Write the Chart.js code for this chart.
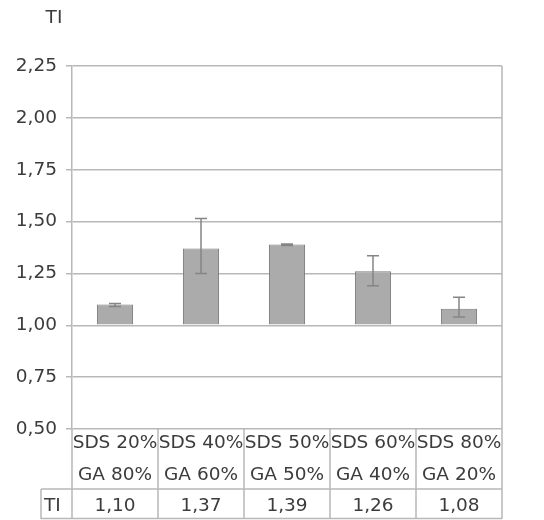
<!DOCTYPE html>
<html>
<head>
<meta charset="utf-8">
<script src="https://cdn.jsdelivr.net/npm/chart.js@4"></script>
<style>
html,body{margin:0;padding:0;background:#fff;}
#wrap{width:544px;height:520px;position:relative;}
</style>
</head>
<body>
<div id="wrap"><canvas id="c" width="544" height="520"></canvas></div>
<script>
const categoriesTop = ["SDS 20%", "SDS 40%", "SDS 50%", "SDS 60%", "SDS 80%"];
const categoriesBottom = ["GA 80%", "GA 60%", "GA 50%", "GA 40%", "GA 20%"];
const tiValues = [1.10, 1.37, 1.39, 1.26, 1.08];
const errLow = [1.09, 1.25, 1.385, 1.19, 1.04];
const errHigh = [1.105, 1.515, 1.392, 1.335, 1.135];
const tableValues = ["1,10", "1,37", "1,39", "1,26", "1,08"];
const seriesName = "TI";
const yTicks = [0.5, 0.75, 1.0, 1.25, 1.5, 1.75, 2.0, 2.25];

const FONT = "'DejaVu Sans', sans-serif";
const TXT = "#3c3c3c";
const GRID = "#b8b8b8";
const FS = 18.5;

const tablePlugin = {
  id: 'tablePlugin',
  afterDatasetsDraw(chart) {
    const ctx = chart.ctx;
    const ys = chart.scales.y;
    const meta = chart.getDatasetMeta(0);
    ctx.save();
    ctx.strokeStyle = "#858585";
    ctx.lineWidth = 1.5;
    meta.data.forEach((bar, i) => {
      const x = bar.x;
      const yl = ys.getPixelForValue(errLow[i]);
      const yh = ys.getPixelForValue(errHigh[i]);
      ctx.beginPath();
      ctx.moveTo(x, yl); ctx.lineTo(x, yh);
      ctx.moveTo(x - 6, yl); ctx.lineTo(x + 6, yl);
      ctx.moveTo(x - 6, yh); ctx.lineTo(x + 6, yh);
      ctx.stroke();
    });
    ctx.restore();
  },
  afterDraw(chart) {
    const ctx = chart.ctx;
    const ca = chart.chartArea;
    const xs = chart.scales.x;
    const n = categoriesTop.length;
    const cw = (ca.right - ca.left) / n;
    const rowSplit = ca.bottom + 60;
    const tblBottom = ca.bottom + 90;
    const labelLeft = ca.left - 31;
    ctx.save();
    ctx.strokeStyle = GRID;
    ctx.lineWidth = 1.5;
    ctx.beginPath();
    ctx.moveTo(ca.right, ca.top); ctx.lineTo(ca.right, ca.bottom);
    for (let i = 0; i <= n; i++) {
      const x = ca.left + i * cw;
      ctx.moveTo(x, ca.bottom); ctx.lineTo(x, tblBottom);
    }
    ctx.moveTo(labelLeft, rowSplit); ctx.lineTo(ca.right, rowSplit);
    ctx.moveTo(labelLeft, rowSplit); ctx.lineTo(labelLeft, tblBottom);
    ctx.moveTo(labelLeft, tblBottom - 0.5); ctx.lineTo(ca.right, tblBottom - 0.5);
    ctx.stroke();

    ctx.fillStyle = TXT;
    ctx.font = FS + "px " + FONT;
    ctx.textAlign = "center";
    ctx.textBaseline = "middle";
    for (let i = 0; i < n; i++) {
      const x = xs.getPixelForValue(i);
      ctx.fillText(categoriesTop[i], x, ca.bottom + 14);
      ctx.fillText(categoriesBottom[i], x, ca.bottom + 46);
      ctx.fillText(tableValues[i], x, rowSplit + 17);
    }
    ctx.textAlign = "left";
    ctx.fillText(seriesName, labelLeft + 3, rowSplit + 17);
    ctx.textAlign = "center";
    ctx.fillText(seriesName, ca.left - 18, 18);
    ctx.restore();
  }
};

new Chart(document.getElementById('c'), {
  type: 'bar',
  data: {
    labels: categoriesTop,
    datasets: [{
      label: seriesName,
      data: tiValues,
      base: 1,
      backgroundColor: "#ababab",
      borderColor: "#7c7c7c",
      borderWidth: 1,
      barPercentage: 0.42,
      categoryPercentage: 1.0
    }]
  },
  options: {
    responsive: false,
    animation: false,
    devicePixelRatio: 1,
    layout: { padding: { top: 66, right: 42, bottom: 91, left: 0 } },
    plugins: { legend: { display: false }, tooltip: { enabled: false }, title: { display: false } },
    scales: {
      x: { display: false },
      y: {
        min: 0.5, max: 2.25,
        afterBuildTicks(scale) { scale.ticks = yTicks.map(v => ({ value: v })); },
        afterFit(scale) { scale.width = 72; },
        ticks: {
          color: TXT,
          font: { family: FONT, size: FS },
          padding: 9,
          callback: (v) => Number(v).toFixed(2).replace('.', ',')
        },
        grid: { color: GRID, lineWidth: 1.5, tickLength: 6, drawTicks: true },
        border: { color: GRID, width: 1.5 }
      }
    }
  },
  plugins: [tablePlugin]
});
</script>
</body>
</html>
